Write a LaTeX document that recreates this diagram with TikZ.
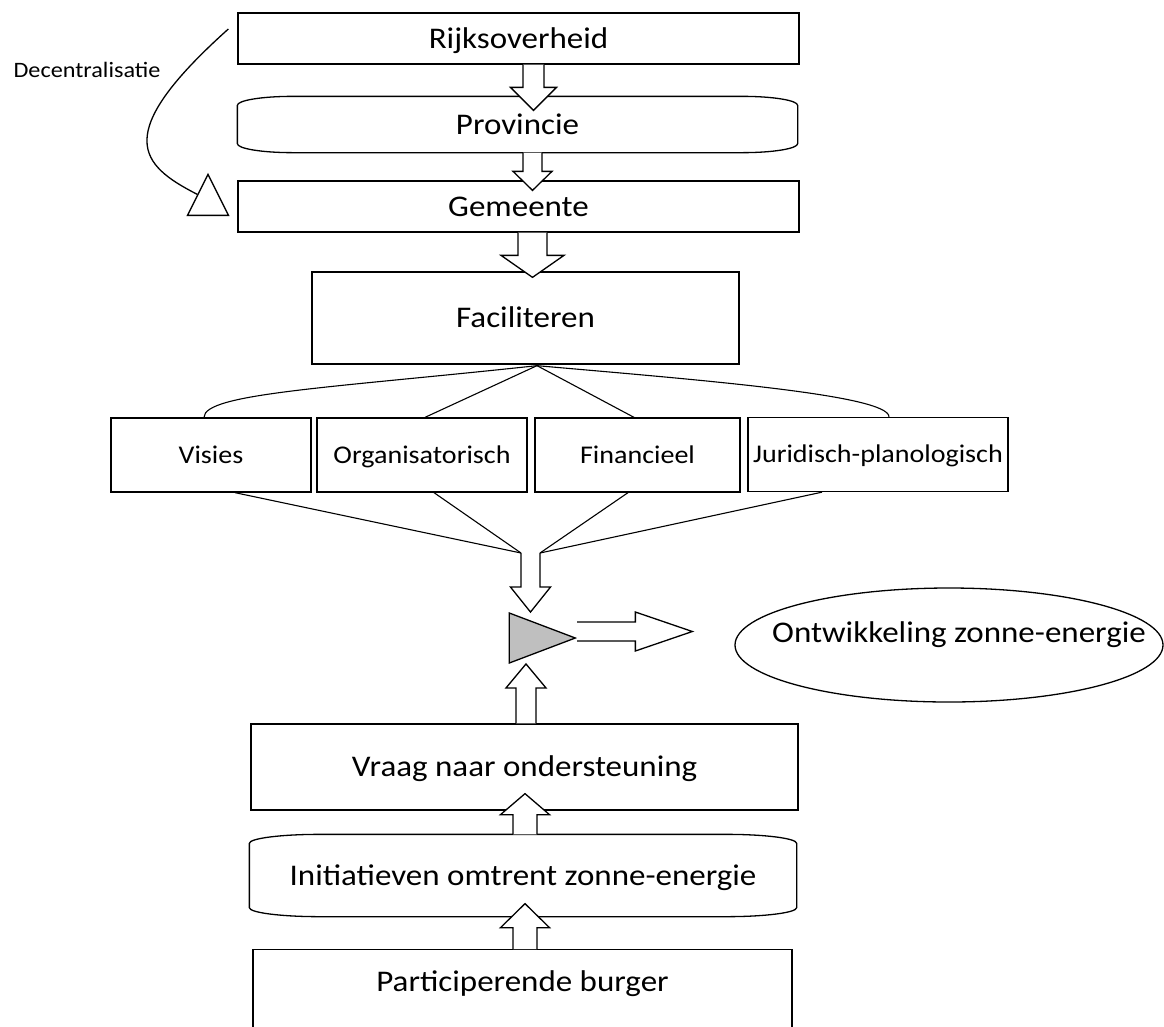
\documentclass[tikz,border=0pt]{standalone}
\usepackage{fontspec}
\setmainfont{Carlito}[FakeStretch=1.1]
\usetikzlibrary{calc, shapes.geometric}

\newcommand{\bigfont}{\fontsize{30pt}{36pt}\selectfont}
\newcommand{\smallfont}{\fontsize{25.5pt}{30pt}\selectfont}
\newcommand{\notefont}{\fontsize{22pt}{26pt}\selectfont}

% outline arrow: shaft half width, head half width, head length, from, to
\newcommand{\blockarrow}[5]{%
  \coordinate (ba) at ($(#5)!#3!(#4)$);
  \draw[fill=white] ($(#4)!#1!90:(#5)$) -- ($(ba)!#1!90:(#5)$) -- ($(ba)!#2!90:(#5)$)
    -- (#5) -- ($(ba)!#2!-90:(#5)$) -- ($(ba)!#1!-90:(#5)$) -- ($(#4)!#1!-90:(#5)$);}

% box with flat elliptic corners: node, x radius, y radius
\newcommand{\capsule}[3]{%
  \draw ([xshift=#2]#1.north west) -- ([xshift=-#2]#1.north east)
    arc[start angle=90, end angle=0, x radius=#2, y radius=#3]
    -- ([yshift=#3]#1.south east)
    arc[start angle=0, end angle=-90, x radius=#2, y radius=#3]
    -- ([xshift=#2]#1.south west)
    arc[start angle=270, end angle=180, x radius=#2, y radius=#3]
    -- ([yshift=-#3]#1.north west)
    arc[start angle=180, end angle=90, x radius=#2, y radius=#3] -- cycle;}

\begin{document}
\begin{tikzpicture}[x=1pt, y=-1pt, line width=1.3pt,
    bigbox/.style={draw, rectangle, inner sep=0pt, font=\bigfont, text height=19.5pt, text depth=0pt},
    bigplain/.style={rectangle, inner sep=0pt, font=\bigfont, text height=19.5pt, text depth=0pt},
    smallbox/.style={draw, rectangle, inner sep=0pt, font=\smallfont, text height=16.5pt, text depth=0pt, minimum height=74pt},
    fan/.style={line width=1.1pt}]
    \useasboundingbox (0,0) rectangle (1164,1026);

    % Government levels
    \node[bigbox, minimum width=561pt, minimum height=51pt] (rijks) at (518.5,38.5) {Rijksoverheid};
    \node[bigplain, minimum width=559pt, minimum height=55pt] (prov) at (517.5,124.5) {Provincie};
    \capsule{prov}{55pt}{9pt}
    \node[bigbox, minimum width=561pt, minimum height=51pt] (gem) at (518.5,206.5) {Gemeente};
    \node[bigbox, minimum width=427pt, minimum height=92pt] (fac) at (525.5,318) {Faciliteren};

    % Decentralisation
    \node[font=\notefont, inner sep=0pt, text height=14pt, text depth=0pt] (decLabel) at (87,70) {Decentralisatie};
    \node[isosceles triangle, isosceles triangle stretches, shape border rotate=90, draw, inner sep=0pt,
        minimum width=41pt, minimum height=41pt, anchor=lower side] (decTip) at (208,216) {};
    \coordinate (decStart) at ($(rijks.west)+(-9,-9.5)$);
    \draw (decStart) .. controls (110,135) and (140,165) .. (decTip.left side);

    % Instruments
    \node[smallbox, minimum width=200pt] (visies) at (211,455) {Visies};
    \node[smallbox, minimum width=210pt] (org) at (422,455) {Organisatorisch};
    \node[smallbox, minimum width=205pt] (fin) at (637.5,455) {Financieel};
    \node[smallbox, minimum width=260pt] (jur) at (878,454.5) {Juridisch-planologisch};

    \coordinate (fanTop) at ($(fac.south)+(11.5,1)$);
    \draw[fan] (fanTop) .. controls (330,388) and ($(visies.north)+(-7,-24)$) .. ($(visies.north)+(-7,0)$);
    \draw[fan] (fanTop) -- ($(org.north)+(3,0)$);
    \draw[fan] (fanTop) -- ($(fin.north)+(-3.5,0)$);
    \draw[fan] (fanTop) .. controls (700,380) and ($(jur.north)+(11,-22)$) .. ($(jur.north)+(11,0)$);

    \coordinate (joinL) at (521,553);
    \coordinate (joinR) at (540,553);
    \draw[fan] ($(visies.south)+(24,0)$) -- (joinL);
    \draw[fan] ($(org.south)+(12,0)$) -- (joinL);
    \draw[fan] ($(fin.south)+(-9.5,0)$) -- (joinR);
    \draw[fan] ($(jur.south)+(-56,0)$) -- (joinR);

    % Merging point and result
    \node[isosceles triangle, isosceles triangle stretches, draw, fill=gray!50, inner sep=0pt,
        minimum width=50pt, minimum height=66pt, anchor=apex] (merge) at (577,638) {};
    \node[ellipse, draw, minimum width=428pt, minimum height=114pt] (ontw) at (949,645) {};
    \node[bigplain] (ontwLabel) at ($(ontw.center)+(10,-12.5)$) {Ontwikkeling zonne-energie};

    % Citizens
    \node[bigbox, minimum width=547pt, minimum height=86pt] (vraag) at (524.5,767) {Vraag naar ondersteuning};
    \node[bigplain, minimum width=546pt, minimum height=81pt] (init) at (523,875.5) {Initiatieven omtrent zonne-energie};
    \capsule{init}{70pt}{9pt}
    \node[draw, rectangle, inner sep=0pt, font=\bigfont, text height=19.5pt, text depth=56pt,
        minimum width=539pt, minimum height=120pt, anchor=north] (part) at (522.5,949) {Participerende burger};

    % Block arrows
    \coordinate (rijksOut) at ($(rijks.south)+(15,0)$);
    \coordinate (provIn) at ($(prov.north)+(16,14)$);
    \blockarrow{10.5pt}{23pt}{23pt}{rijksOut}{provIn}
    \coordinate (provOut) at ($(prov.south)+(15,0)$);
    \coordinate (gemIn) at ($(gem.north)+(14,10)$);
    \blockarrow{9.5pt}{19.5pt}{19pt}{provOut}{gemIn}
    \coordinate (gemOut) at ($(gem.south)+(14,0)$);
    \coordinate (facIn) at ($(fac.north)+(7,6)$);
    \blockarrow{14.5pt}{31.5pt}{22pt}{gemOut}{facIn}

    \coordinate (joinMid) at ($(joinL)!0.5!(joinR)$);
    \coordinate (mergeIn) at (joinMid |- merge.left corner);
    \blockarrow{9.5pt}{20pt}{25pt}{joinMid}{mergeIn}
    \coordinate (mergeOut) at ($(merge.apex)+(0,-6.5)$);
    \coordinate (devTip) at ($(ontw.west)+(-42,-13.5)$);
    \blockarrow{9.5pt}{19.5pt}{57pt}{mergeOut}{devTip}

    \coordinate (vraagOut) at ($(vraag.north)+(1.5,0)$);
    \coordinate (mergeBase) at (vraagOut |- merge.right corner);
    \blockarrow{10pt}{20pt}{24pt}{vraagOut}{mergeBase}
    \coordinate (initOut) at ($(init.north)+(2,0)$);
    \coordinate (vraagIn) at ($(vraag.south)+(0.5,-17)$);
    \blockarrow{12pt}{24.5pt}{21pt}{initOut}{vraagIn}
    \coordinate (partOut) at ($(part.north)+(2.5,0)$);
    \coordinate (initIn) at ($(init.south)+(2,-13)$);
    \blockarrow{12pt}{24.5pt}{24pt}{partOut}{initIn}
\end{tikzpicture}
\end{document}
